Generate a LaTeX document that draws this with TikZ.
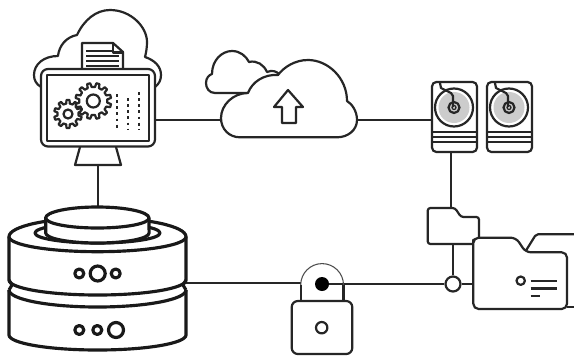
\documentclass[tikz,border=0pt]{standalone}
\usepackage{xcolor}

% Gear outline: centre x, centre y, root radius, tip radius, teeth, hole radius
\newcommand{\gearicon}[6]{%
  \pgfmathsetmacro{\gearStep}{360/#5}
  \draw[icon,fill=white,shift={(#1,#2)}] (0:#3)
    \foreach \i in {1,...,#5} {
      -- ({(\i-1)*\gearStep+0.22*\gearStep}:#3)
      -- ({(\i-1)*\gearStep+0.33*\gearStep}:#4)
      -- ({(\i-1)*\gearStep+0.67*\gearStep}:#4)
      -- ({(\i-1)*\gearStep+0.78*\gearStep}:#3)
      -- ({\i*\gearStep}:#3)
    } -- cycle;
  \draw[icon,shift={(#1,#2)}] (0,0) circle (#6);
}

% One hard drive, left edge at x
\newcommand{\driveicon}[1]{%
  \begin{scope}[xshift=#1*0.02cm]
    \draw[icon,rounded corners=2.5pt] (0,82) rectangle (45,152);
    \fill[diskgray] (22,107.5) circle (15.5);
    \draw[icon] (22,107.5) circle (19);
    \draw[icon] (22,107.5) circle (5.5);
    \draw[icon,line width=0.7pt] (22,107.5) circle (2);
    \draw[icon] (8,83) -- (9,88) -- (19,93) -- (21,96) -- (21,107);
    \foreach \y in {132.3,136.8,141.6} {
      \draw[icon] (0,\y) -- (45,\y);
    }
  \end{scope}
}

\begin{document}
\begin{tikzpicture}[x=0.02cm,y=-0.02cm,
  icon/.style={line width=1.25pt,black!85,line join=round},
  heavy/.style={line width=1.8pt,black!90,line join=round},
  wire/.style={line width=1.35pt,black!85},
  junction/.style={circle,draw=black!85,line width=1.25pt,fill=white,inner sep=0pt,minimum size=15*0.02cm}]
\definecolor{diskgray}{gray}{0.8}

\useasboundingbox (0,0) rectangle (574,355);
\fill[white] (0,0) rectangle (574,355);

% Connector ends on the icons
\coordinate (monitorRight) at (155,120);
\coordinate (monitorFoot) at (98,165);
\coordinate (cloudLeft) at (221,120);
\coordinate (cloudRight) at (357,120);
\coordinate (driveLeft) at (432,120);
\coordinate (driveFoot) at (451,152);
\coordinate (folderTop) at (451,208);
\coordinate (folderFoot) at (453,244);
\coordinate (stackTop) at (98,207);
\coordinate (stackRight) at (185,283);
\coordinate (lockLeft) at (301,283);
\coordinate (lockDot) at (322,284);
\coordinate (bigFolderLeft) at (473,284);
\node[junction] (joint) at (453,284) {};

% Connectors
\draw[wire] (monitorFoot) -- (stackTop);
\draw[wire] (monitorRight) -- (cloudLeft);
\draw[wire] (cloudRight) -- (driveLeft);
\draw[wire] (driveFoot) -- (folderTop);
\draw[wire] (folderFoot) -- (joint);
\draw[wire] (stackRight) -- (lockLeft);
\draw[wire] (lockDot) -- (joint);
\draw[wire] (joint) -- (bigFolderLeft);

% Cloud behind the monitor
\draw[icon] (41,87) .. controls (36,84) and (34,80) .. (34,75)
  .. controls (34,64) and (44,56) .. (58,56)
  .. controls (59,46) and (66,37) .. (77,35)
  .. controls (84,20) and (96,10) .. (110,10)
  .. controls (131,10) and (147,27) .. (147,42)
  .. controls (147,48) and (146,53) .. (145,57)
  .. controls (154,60) and (161,66) .. (161,75)
  .. controls (161,80) and (159,84) .. (155,87);

% Document
\draw[icon,fill=white] (82,69) -- (82,43) -- (113,43) -- (123,52) -- (123,69);
\draw[icon] (113,43) -- (113,52.5) -- (123,52.5);
\draw[icon] (86,51) -- (112,51);
\foreach \y in {56,61,66} {
  \draw[icon] (86,\y) -- (119,\y);
}

% Monitor
\draw[icon,fill=white] (80,147) -- (75,165) -- (121,165) -- (116,147);
\draw[icon,fill=white,rounded corners=4pt] (41,69) rectangle (155,146.5);
\draw[icon] (47,75) rectangle (149,141);

% Gears and dotted columns
\gearicon{68}{114}{10.5}{14}{10}{4.5}
\gearicon{93.3}{101}{14}{18}{12}{6.5}
\draw[icon,dash pattern=on 1.6pt off 1.9pt] (116.7,94) -- (116.7,130);
\draw[icon,dash pattern=on 1.6pt off 1.9pt] (128,98) -- (128,130);
\draw[icon,dash pattern=on 1.6pt off 1.9pt] (139.3,92) -- (139.3,130);

% Small cloud, then the big one over it
\draw[icon] (248,93) -- (215,93) .. controls (209,93) and (206,88) .. (206,83)
  .. controls (206,78) and (209,75) .. (212,74)
  .. controls (212,60) and (222,51) .. (232,51)
  .. controls (240,51) and (246,56) .. (249,62)
  .. controls (257,60) and (264,65) .. (267,72)
  .. controls (272,70) and (276,71) .. (279,74);
\draw[icon,fill=white] (240,137.3) -- (337,137.3)
  .. controls (348,137.3) and (357,130) .. (357,120)
  .. controls (357,111) and (352,104) .. (347,101)
  .. controls (347,78) and (328,60) .. (308,60)
  .. controls (295,60) and (284,67) .. (278,75)
  .. controls (264,74) and (252,82) .. (248,93)
  .. controls (233,93) and (221,105) .. (221,118)
  .. controls (221,129) and (229,137.3) .. (240,137.3) -- cycle;
\draw[icon] (288,90) -- (303,107) -- (296,107) -- (296,123) -- (282,123) -- (282,107) -- (274,107) -- cycle;

% Drives
\driveicon{432}
\driveicon{487}

% Disk stack: lower layer
\draw[heavy] (9,290) -- (9,335) arc[start angle=180,end angle=0,x radius=88.5,y radius=15] -- (186,290);
\draw[heavy] (9,290) arc[start angle=180,end angle=0,x radius=88.5,y radius=17];
% upper layer
\draw[heavy,fill=white] (9,236.7) -- (9,280) arc[start angle=180,end angle=0,x radius=88.5,y radius=15] -- (186,236.7)
  arc[start angle=0,end angle=-180,x radius=88.5,y radius=19] -- cycle;
\draw[heavy] (9,280) -- (12,285) -- (9,290);
\draw[heavy] (186,280) -- (183,285) -- (186,290);
\draw[heavy] (9,236.7) arc[start angle=180,end angle=0,x radius=88.5,y radius=15];
\draw[heavy] (97.5,233) ellipse (62.5 and 10);
% top cylinder
\draw[heavy,fill=white] (45.7,218) -- (45.7,233) arc[start angle=180,end angle=0,x radius=51.7,y radius=10] -- (149,218)
  arc[start angle=0,end angle=-180,x radius=51.7,y radius=11] -- cycle;
\draw[heavy] (45.7,218) arc[start angle=180,end angle=0,x radius=51.7,y radius=10];
% indicator lights
\draw[heavy] (79.3,273.5) circle (4.5);
\draw[heavy] (97.7,273.5) circle (7.5);
\draw[heavy] (115.7,273.5) circle (4.5);
\draw[heavy] (79.3,330) circle (4.5);
\draw[heavy] (97.3,330) circle (4.5);
\draw[heavy] (116,330) circle (7.5);

% Lock
\draw[icon] (300.7,301) -- (300.7,285);
\draw[icon] (343.5,301) -- (343.5,285);
\draw[black!70,line width=0.6pt] (300.7,285) arc[start angle=180,end angle=360,radius=21.4];
\draw[icon,rounded corners=3.5pt] (291.7,301) rectangle (352.3,354);
\draw[icon] (321.7,327.7) circle (5.7);
\fill[black] (lockDot) circle (7);

% Small folder
\draw[icon,rounded corners=1.5pt] (472.7,244) -- (427.7,244) -- (427.7,208) -- (455,208) -- (461,217) -- (479,217) -- (479,238);

% Big folder
\draw[icon,fill=white,rounded corners=3pt] (473.3,245) -- (473.3,237.7) -- (516,237.7) -- (525.7,252.3) -- (567,252.3) -- (567,309) -- (473.3,309) -- cycle;
\draw[icon] (525.7,251) -- (535,236) .. controls (536,234.5) .. (538,234.3) -- (574,234.3);
\draw[icon] (567,307.3) -- (574,307.3);
\draw[icon] (520.7,280.7) circle (4.2);
\draw[icon] (530.7,280.7) -- (556.7,280.7);
\draw[icon] (530.7,288.5) -- (556.7,288.5);
\draw[icon] (530.7,296.3) -- (540,296.3);

\end{tikzpicture}
\end{document}
